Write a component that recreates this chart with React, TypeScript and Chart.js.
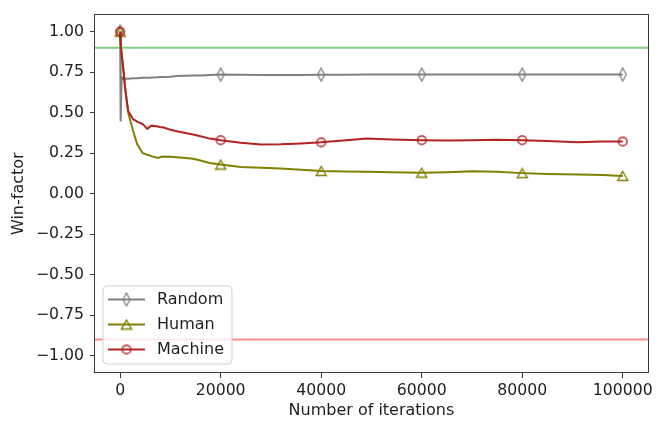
import React, { useEffect, useRef } from "react";
import { Chart, registerables } from "chart.js";

Chart.register(...registerables);

const ITERATIONS = [0, 100, 300, 700, 1000, 1600, 2600, 3400, 4500, 5400, 6000, 6300, 7500, 7900, 8500, 10000, 11300, 13000, 14500, 16000, 17800, 20000, 24000, 28000, 32000, 36000, 40000, 45000, 49000, 54000, 60000, 65000, 70000, 75000, 80000, 85000, 91000, 96000, 100000];
const RANDOM = [1.0, 0.445, 0.72, 0.705, 0.71, 0.71, 0.712, 0.712, 0.715, 0.716, 0.716, 0.717, 0.718, 0.72, 0.72, 0.722, 0.726, 0.728, 0.73, 0.73, 0.733, 0.735, 0.734, 0.732, 0.732, 0.733, 0.734, 0.734, 0.735, 0.735, 0.735, 0.735, 0.735, 0.735, 0.735, 0.735, 0.735, 0.735, 0.735];
const HUMAN = [1.0, 0.93, 0.86, 0.75, 0.65, 0.5, 0.385, 0.305, 0.25, 0.24, 0.235, 0.23, 0.22, 0.225, 0.23, 0.228, 0.225, 0.22, 0.215, 0.205, 0.19, 0.18, 0.165, 0.16, 0.155, 0.148, 0.14, 0.137, 0.135, 0.133, 0.13, 0.133, 0.138, 0.135, 0.127, 0.122, 0.118, 0.115, 0.11];
const MACHINE = [1.0, 0.93, 0.86, 0.75, 0.65, 0.51, 0.46, 0.445, 0.43, 0.4, 0.415, 0.42, 0.415, 0.41, 0.41, 0.395, 0.385, 0.375, 0.365, 0.355, 0.34, 0.33, 0.315, 0.303, 0.305, 0.31, 0.317, 0.33, 0.34, 0.335, 0.33, 0.328, 0.33, 0.333, 0.33, 0.325, 0.318, 0.322, 0.322];
const THRESHOLDS = [0.9, -0.9];
const X_TICKS = [0, 20000, 40000, 60000, 80000, 100000];
const Y_TICKS = [-1, -0.75, -0.5, -0.25, 0, 0.25, 0.5, 0.75, 1];
const X_LIMITS = [-5000, 105000];
const Y_LIMITS = [-1.1, 1.1];
const MARK_EVERY = 20000;

const FONT = "DejaVu Sans";
const TEXT = "#1e1e1e";
const COL_RANDOM = "#808080";
const COL_HUMAN = "#808000";
const COL_MACHINE = "#b22222";

function makeMarker(kind: string, color: string): HTMLCanvasElement {
  const c = document.createElement("canvas");
  const ctx = c.getContext("2d")!;
  if (kind === "diamond") {
    c.width = 10; c.height = 15;
    ctx.strokeStyle = color; ctx.lineWidth = 1.3;
    ctx.beginPath();
    ctx.moveTo(5, 1); ctx.lineTo(8.5, 7.5); ctx.lineTo(5, 14); ctx.lineTo(1.5, 7.5); ctx.closePath();
    ctx.stroke();
  } else if (kind === "triangle") {
    c.width = 13; c.height = 12;
    ctx.strokeStyle = color; ctx.lineWidth = 1.4;
    ctx.beginPath();
    ctx.moveTo(6.5, 1.5); ctx.lineTo(11.5, 10.5); ctx.lineTo(1.5, 10.5); ctx.closePath();
    ctx.stroke();
  } else {
    c.width = 12; c.height = 12;
    ctx.strokeStyle = color; ctx.lineWidth = 1.4;
    ctx.beginPath();
    ctx.arc(6, 6, 4.3, 0, Math.PI * 2);
    ctx.stroke();
  }
  return c;
}

export default function App() {
  const ref = useRef<HTMLCanvasElement>(null);
  useEffect(() => {
    const markers = {
      Random: makeMarker("diamond", COL_RANDOM),
      Human: makeMarker("triangle", COL_HUMAN),
      Machine: makeMarker("circle", COL_MACHINE),
    };
    const series = [
      { label: "Random", values: RANDOM, color: COL_RANDOM, order: 3 },
      { label: "Human", values: HUMAN, color: COL_HUMAN, order: 2 },
      { label: "Machine", values: MACHINE, color: COL_MACHINE, order: 1 },
    ];
    const datasets: any[] = series.map((s) => ({
      label: s.label,
      data: ITERATIONS.map((x, i) => ({ x, y: s.values[i] })),
      borderColor: s.color,
      borderWidth: 2,
      fill: false,
      tension: 0,
      order: s.order,
      pointStyle: (markers as any)[s.label],
      pointRadius: (c: any) => (ITERATIONS[c.dataIndex] % MARK_EVERY === 0 ? 5 : 0),
      pointHoverRadius: 0,
    }));
    THRESHOLDS.forEach((t, i) => {
      datasets.push({
        label: "_thr" + i,
        data: [{ x: X_LIMITS[0], y: t }, { x: X_LIMITS[1], y: t }],
        borderColor: t > 0 ? "rgba(0,160,0,0.5)" : "rgba(255,0,0,0.45)",
        borderWidth: 2,
        pointRadius: 0,
        order: 5,
      });
    });

    const framePlugin = {
      id: "frameLegend",
      afterDatasetsDraw(chart: any) {
        const { ctx, chartArea } = chart;
        const { left, right, top, bottom } = chartArea;
        ctx.save();
        ctx.strokeStyle = "#3a3a3a";
        ctx.lineWidth = 1;
        ctx.strokeRect(Math.round(left) - 0.5, Math.round(top) - 0.5, Math.round(right - left) + 1, Math.round(bottom - top) + 1);
        // legend
        const bx = 103, by = 286, bw = 129, bh = 78, r = 4;
        ctx.beginPath();
        ctx.moveTo(bx + r, by);
        ctx.lineTo(bx + bw - r, by);
        ctx.quadraticCurveTo(bx + bw, by, bx + bw, by + r);
        ctx.lineTo(bx + bw, by + bh - r);
        ctx.quadraticCurveTo(bx + bw, by + bh, bx + bw - r, by + bh);
        ctx.lineTo(bx + r, by + bh);
        ctx.quadraticCurveTo(bx, by + bh, bx, by + bh - r);
        ctx.lineTo(bx, by + r);
        ctx.quadraticCurveTo(bx, by, bx + r, by);
        ctx.closePath();
        ctx.fillStyle = "rgba(255,255,255,0.8)";
        ctx.fill();
        ctx.strokeStyle = "#d0d0d0";
        ctx.stroke();
        series.forEach((s, i) => {
          const y = 299.5 + i * 25;
          ctx.strokeStyle = s.color;
          ctx.lineWidth = 2;
          ctx.beginPath();
          ctx.moveTo(108, y);
          ctx.lineTo(145, y);
          ctx.stroke();
          const m = (markers as any)[s.label];
          ctx.drawImage(m, 126.5 - m.width / 2, y - m.height / 2);
          ctx.fillStyle = TEXT;
          ctx.font = `16px "${FONT}"`;
          ctx.textBaseline = "middle";
          ctx.textAlign = "left";
          ctx.fillText(s.label, 157, y);
        });
        ctx.restore();
      },
    };

    const chart = new Chart(ref.current!, {
      type: "line",
      data: { datasets },
      plugins: [framePlugin],
      options: {
        animation: false,
        responsive: false,
        devicePixelRatio: 1,
        events: [],
        layout: { padding: { top: 13, right: 7, left: 0, bottom: 0 } },
        plugins: { legend: { display: false }, tooltip: { enabled: false } },
        scales: {
          x: {
            type: "linear",
            min: X_LIMITS[0],
            max: X_LIMITS[1],
            afterBuildTicks: (scale: any) => {
              scale.ticks = X_TICKS.map((v) => ({ value: v }));
            },
            afterFit: (scale: any) => {
              scale.height = 51;
            },
            ticks: {
              autoSkip: false,
              maxRotation: 0,
              padding: 4,
              color: TEXT,
              font: { family: FONT, size: 15.7 },
              callback: (v: any) => String(v),
            },
            grid: { display: true, drawOnChartArea: false, drawTicks: true, tickLength: 6, color: "#3a3a3a" },
            border: { display: false },
            title: {
              display: true,
              text: "Number of iterations",
              color: TEXT,
              font: { family: FONT, size: 16 },
              padding: { top: 0, bottom: 3 },
            },
          },
          y: {
            type: "linear",
            min: Y_LIMITS[0],
            max: Y_LIMITS[1],
            afterBuildTicks: (scale: any) => {
              scale.ticks = Y_TICKS.map((v) => ({ value: v }));
            },
            afterFit: (scale: any) => {
              scale.width = 95;
            },
            ticks: {
              autoSkip: false,
              padding: 6,
              color: TEXT,
              font: { family: FONT, size: 15.7 },
              callback: (v: any) => Number(v).toFixed(2).replace("-", "\u2212"),
            },
            grid: { display: true, drawOnChartArea: false, drawTicks: true, tickLength: 5, color: "#3a3a3a" },
            border: { display: false },
            title: {
              display: true,
              text: "Win-factor",
              color: TEXT,
              font: { family: FONT, size: 16 },
              padding: { top: 9, bottom: 0 },
            },
          },
        },
      } as any,
    });
    return () => chart.destroy();
  }, []);
  return (
    <div style={{ position: "fixed", left: 0, top: 0, width: 657, height: 423, background: "#fff" }}>
      <canvas ref={ref} width={657} height={423} style={{ display: "block", width: 657, height: 423 }} />
    </div>
  );
}
